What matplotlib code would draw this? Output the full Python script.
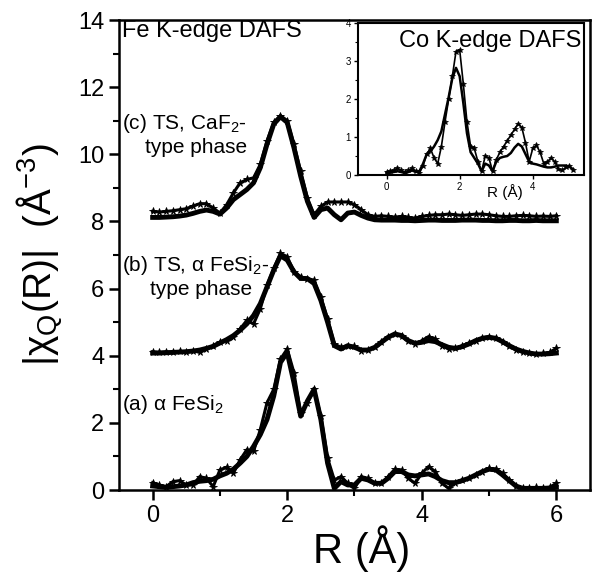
import numpy as np
import matplotlib
matplotlib.use("Agg")
import matplotlib.pyplot as plt
from matplotlib.ticker import MultipleLocator

plt.rcParams['font.family'] = ['Liberation Sans', 'DejaVu Sans']

# main panel, R grid 0..6 step 0.1
r_main = np.round(np.arange(0, 6.01, 0.1), 2)

a_data = [0.22, 0.15, 0.10, 0.25, 0.28, 0.15, 0.15, 0.40, 0.35, 0.10,
          0.60, 0.68, 0.50, 0.90, 1.20, 1.15, 1.80, 2.60, 3.00, 3.90,
          4.20, 3.50, 2.30, 2.60, 3.00, 2.20, 0.95, 0.30, 0.40, 0.20,
          0.05, 0.40, 0.35, 0.20, 0.20, 0.40, 0.62, 0.60, 0.35, 0.20,
          0.50, 0.70, 0.55, 0.20, 0.05, 0.22, 0.30, 0.35, 0.45, 0.55,
          0.65, 0.62, 0.50, 0.30, 0.12, 0.05, 0.05, 0.08, 0.06, 0.08, 0.20]
a_fit = [0.12, 0.10, 0.08, 0.10, 0.12, 0.15, 0.22, 0.26, 0.28, 0.32,
         0.42, 0.50, 0.62, 0.80, 1.00, 1.30, 1.65, 2.10, 2.80, 3.80,
         4.10, 3.20, 2.20, 2.65, 3.00, 2.10, 0.80, 0.05, 0.25, 0.15,
         0.15, 0.35, 0.30, 0.20, 0.20, 0.35, 0.55, 0.55, 0.45, 0.42,
         0.45, 0.48, 0.40, 0.28, 0.22, 0.22, 0.28, 0.35, 0.45, 0.55,
         0.62, 0.60, 0.45, 0.28, 0.12, 0.05, 0.05, 0.05, 0.05, 0.06, 0.08]

b_data = [4.12, 4.10, 4.12, 4.10, 4.13, 4.12, 4.15, 4.10, 4.20, 4.30,
          4.40, 4.45, 4.55, 4.80, 5.05, 4.95, 5.40, 6.10, 6.60, 7.05,
          6.95, 6.50, 6.35, 6.30, 6.25, 5.75, 5.10, 4.35, 4.25, 4.30,
          4.28, 4.15, 4.18, 4.25, 4.42, 4.57, 4.65, 4.60, 4.45, 4.35,
          4.45, 4.57, 4.50, 4.30, 4.20, 4.22, 4.30, 4.38, 4.45, 4.53,
          4.57, 4.52, 4.40, 4.28, 4.18, 4.10, 4.08, 4.05, 4.07, 4.10, 4.22]
b_fit = [4.08, 4.08, 4.09, 4.10, 4.11, 4.12, 4.14, 4.17, 4.22, 4.28,
         4.38, 4.48, 4.60, 4.76, 4.95, 5.20, 5.55, 6.05, 6.55, 6.98,
         6.85, 6.50, 6.30, 6.30, 6.15, 5.65, 5.00, 4.30, 4.20, 4.30,
         4.25, 4.17, 4.17, 4.25, 4.40, 4.55, 4.65, 4.60, 4.45, 4.37,
         4.40, 4.45, 4.42, 4.33, 4.25, 4.22, 4.27, 4.35, 4.45, 4.52,
         4.55, 4.52, 4.42, 4.30, 4.20, 4.13, 4.08, 4.05, 4.05, 4.06, 4.08]

c_data = [8.30, 8.28, 8.30, 8.32, 8.35, 8.38, 8.46, 8.53, 8.53, 8.40,
          8.25, 8.50, 8.85, 9.15, 9.25, 9.30, 9.70, 10.40, 10.95, 11.15,
          11.00, 10.30, 9.50, 8.70, 8.20, 8.45, 8.58, 8.58, 8.58, 8.58,
          8.50, 8.35, 8.20, 8.15, 8.17, 8.15, 8.13, 8.15, 8.12, 8.10,
          8.15, 8.18, 8.20, 8.20, 8.22, 8.20, 8.18, 8.20, 8.22, 8.22,
          8.20, 8.17, 8.15, 8.15, 8.17, 8.18, 8.17, 8.15, 8.16, 8.15, 8.17]
c_fit = [8.12, 8.12, 8.13, 8.14, 8.16, 8.19, 8.24, 8.30, 8.34, 8.30,
         8.22, 8.40, 8.65, 8.80, 8.95, 9.15, 9.60, 10.30, 10.90, 11.12,
         10.95, 10.20, 9.35, 8.60, 8.12, 8.35, 8.40, 8.20, 8.05, 8.25,
         8.28, 8.18, 8.10, 8.05, 8.04, 8.04, 8.04, 8.03, 8.03, 8.02,
         8.03, 8.04, 8.04, 8.03, 8.03, 8.03, 8.04, 8.04, 8.04, 8.03,
         8.03, 8.02, 8.02, 8.03, 8.03, 8.02, 8.02, 8.03, 8.02, 8.02, 8.02]

# inset (Co K-edge), R grid 0..5.1 step 0.1
r_co = np.round(np.arange(0, 5.11, 0.1), 2)
co_data = [0.08, 0.10, 0.12, 0.18, 0.12, 0.08, 0.12, 0.18, 0.10, 0.05,
           0.25, 0.55, 0.70, 0.45, 0.30, 0.75, 1.40, 2.00, 2.60, 3.25,
           3.30, 2.40, 1.40, 0.75, 0.70, 0.35, 0.10, 0.50, 0.45, 0.10,
           0.40, 0.60, 0.75, 0.90, 1.05, 1.20, 1.35, 1.25, 0.85, 0.35,
           0.70, 0.78, 0.60, 0.30, 0.35, 0.45, 0.35, 0.15, 0.12, 0.20,
           0.25, 0.12]
co_fit = [0.05, 0.06, 0.08, 0.10, 0.08, 0.05, 0.08, 0.12, 0.08, 0.10,
          0.30, 0.55, 0.62, 0.75, 0.92, 1.15, 1.60, 2.05, 2.55, 2.82,
          2.60, 1.90, 1.10, 0.60, 0.45, 0.30, 0.10, 0.30, 0.25, 0.10,
          0.35, 0.45, 0.48, 0.50, 0.58, 0.72, 0.82, 0.75, 0.55, 0.35,
          0.30, 0.28, 0.25, 0.22, 0.20, 0.20, 0.22, 0.25, 0.25, 0.25,
          0.22, 0.15]

fig = plt.figure(figsize=(5.92, 5.74), dpi=100)
ax = fig.add_axes([0.201, 0.1463, 0.7956, 0.8188])

for d, f in [(a_data, a_fit), (b_data, b_fit), (c_data, c_fit)]:
    ax.plot(r_main, d, '-', lw=2.2, marker='*', ms=5.5, color='black', mew=0.6)
    ax.plot(r_main, f, '-', color='black', lw=3.5)

ax.set_xlim(-0.5, 6.5)
ax.set_ylim(0, 14)
ax.xaxis.set_major_locator(MultipleLocator(2))
ax.xaxis.set_minor_locator(MultipleLocator(1))
ax.yaxis.set_major_locator(MultipleLocator(2))
ax.yaxis.set_minor_locator(MultipleLocator(1))
ax.tick_params(which='major', direction='out', length=7, width=1.8, labelsize=17)
ax.tick_params(which='minor', direction='out', length=4, width=1.5)
for s in ax.spines.values():
    s.set_linewidth(1.8)

ax.set_xlabel('R (Å)', fontsize=30)
ax.xaxis.set_label_coords(0.516, -0.075)
ax.set_ylabel('|χ$_\\mathregular{Q}$(R)|  (Å$^\\mathregular{-3}$)', fontsize=28)
ax.yaxis.set_label_coords(-0.115, 0.5)

ax.text(-0.46, 13.68, 'Fe K-edge DAFS', fontsize=17, va='center', ha='left')
ax.text(-0.46, 10.92, '(c) TS, CaF$_\\mathregular{2}$-', fontsize=15, va='center')
ax.text(-0.12, 10.2, 'type phase', fontsize=15, va='center')
ax.text(-0.46, 6.7, '(b) TS, α FeSi$_\\mathregular{2}$-', fontsize=15, va='center')
ax.text(-0.04, 5.98, 'type phase', fontsize=15, va='center')
ax.text(-0.46, 2.56, '(a) α FeSi$_\\mathregular{2}$', fontsize=15, va='center')

ins = fig.add_axes([0.6047, 0.6951, 0.3818, 0.2648])
ins.plot(r_co, co_data, '-', lw=1.2, marker='*', ms=4, color='black', mew=0.5)
ins.plot(r_co, co_fit, '-', color='black', lw=1.8)
ins.set_xlim(-0.78, 5.4)
ins.set_ylim(0, 4)
ins.xaxis.set_major_locator(MultipleLocator(2))
ins.yaxis.set_major_locator(MultipleLocator(1))
ins.yaxis.set_minor_locator(MultipleLocator(0.5))
ins.tick_params(which='major', direction='out', length=3, width=1, labelsize=7, pad=2)
ins.tick_params(which='minor', direction='out', length=2, width=0.8)
for s in ins.spines.values():
    s.set_linewidth(1.5)
ins.set_xlabel('R (Å)', fontsize=11)
ins.xaxis.set_label_coords(0.65, -0.06)
ins.text(0.99, 0.955, 'Co K-edge DAFS', transform=ins.transAxes, fontsize=17,
         ha='right', va='top')

fig.savefig('out.png', dpi=100)
